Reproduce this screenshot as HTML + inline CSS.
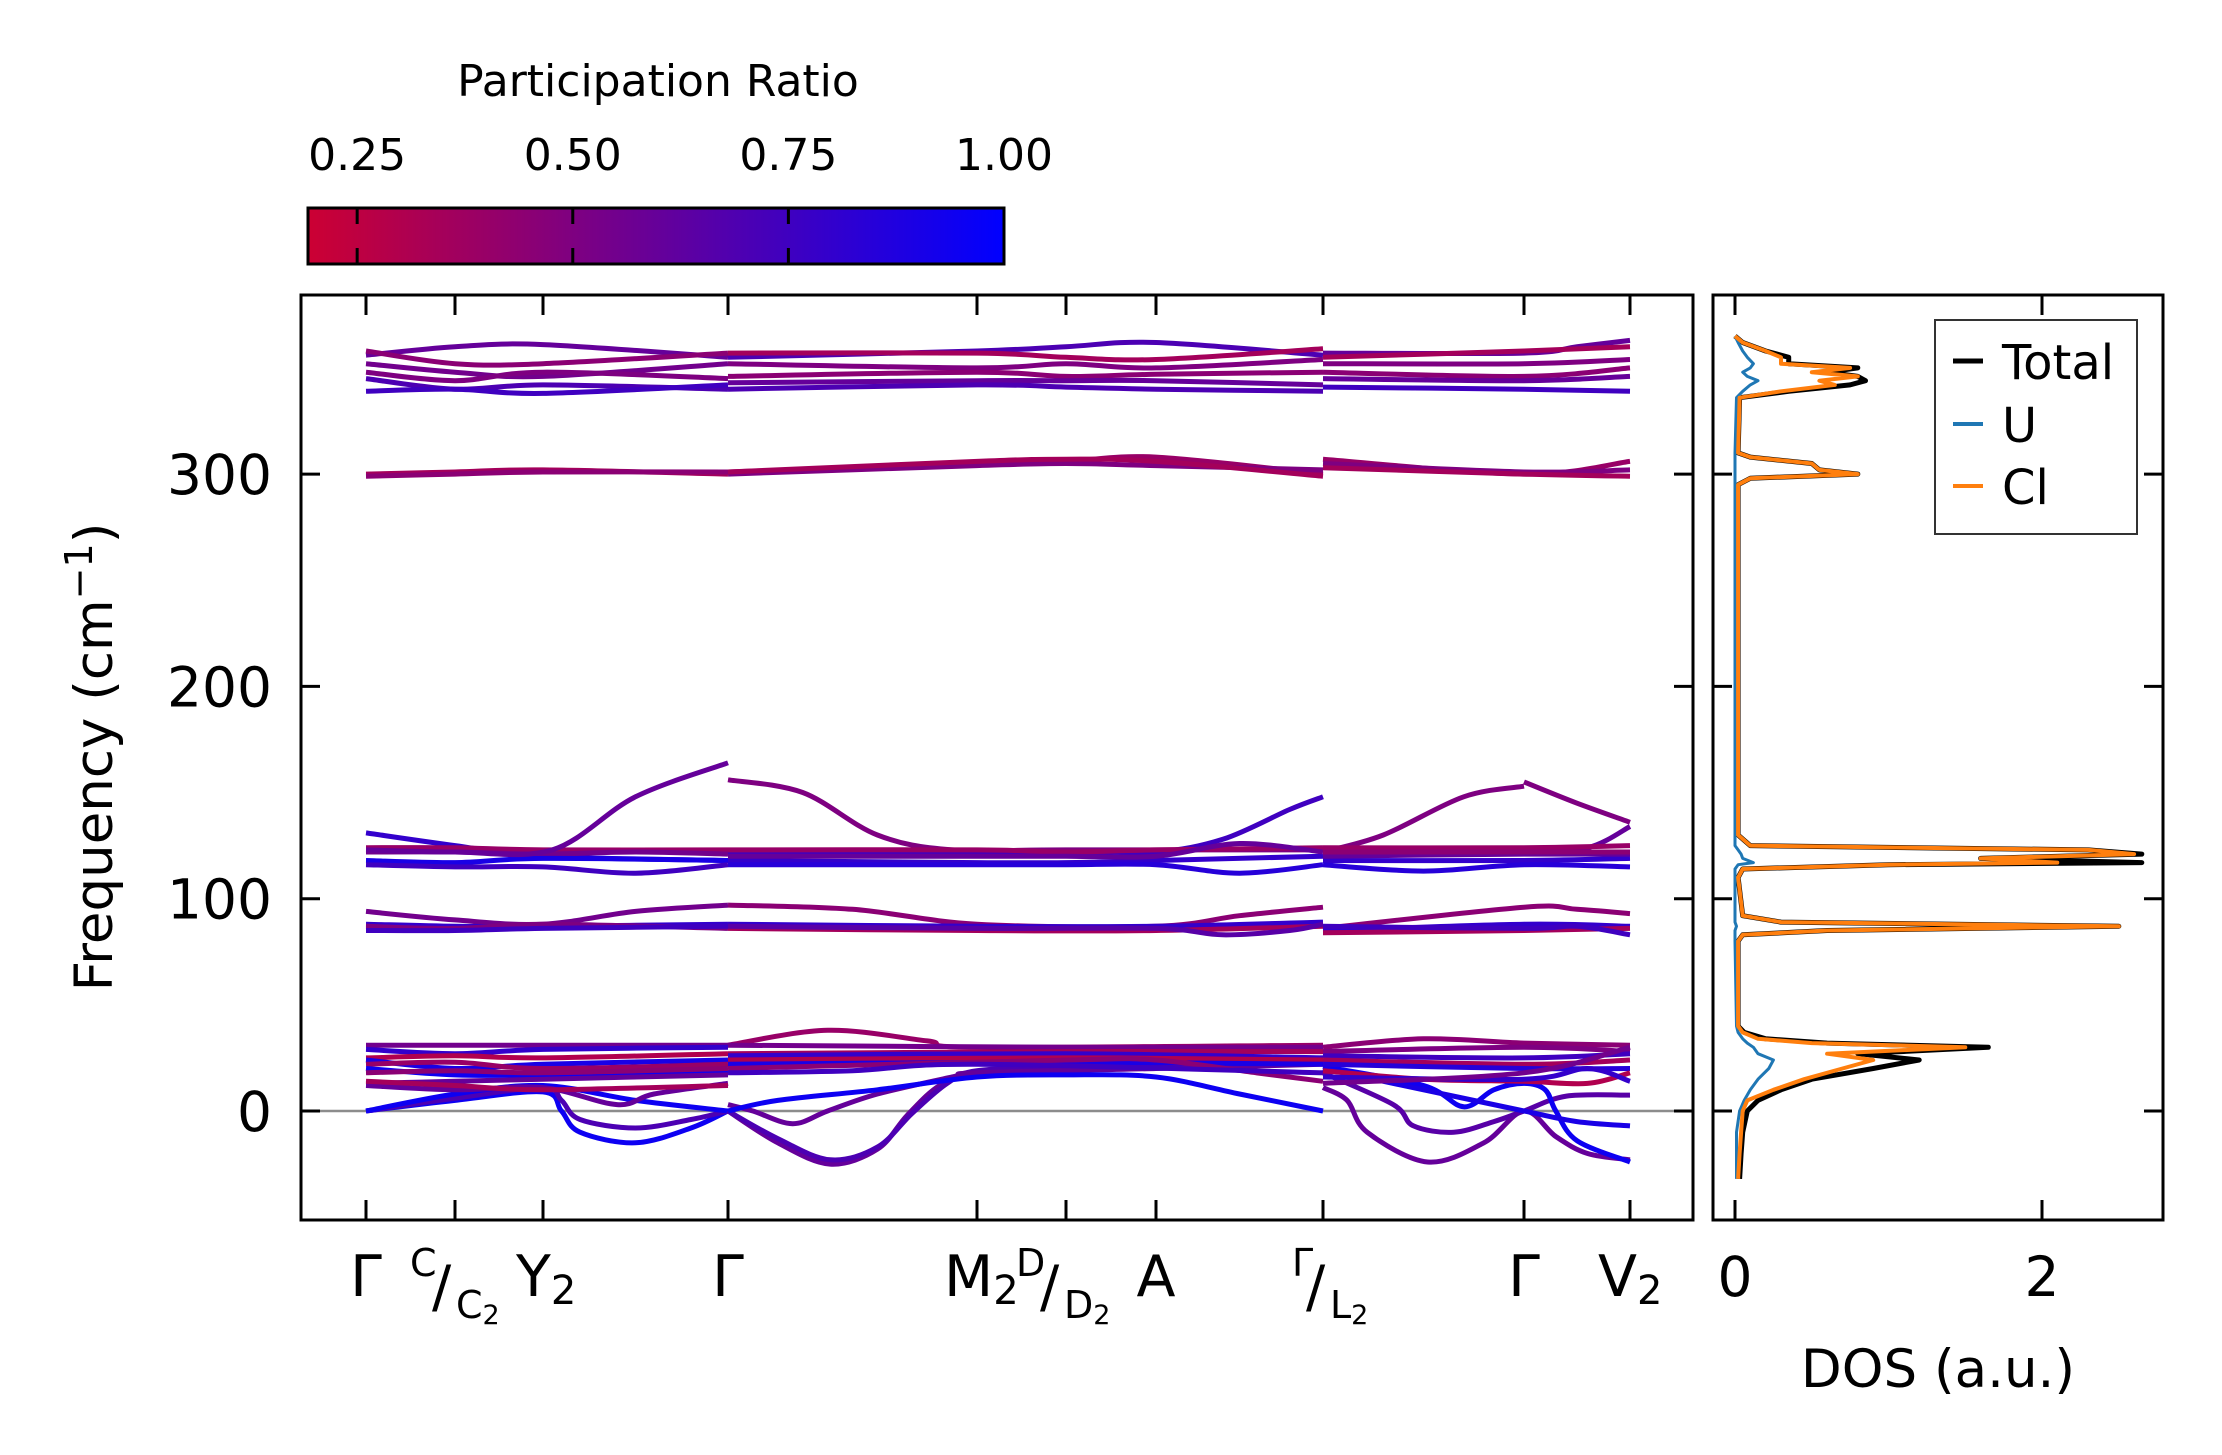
<!DOCTYPE html>
<html><head><meta charset="utf-8"><style>
html,body{margin:0;padding:0;background:#fff}
svg{display:block}
text{font-family:"DejaVu Sans","Liberation Sans",sans-serif;fill:#000}
</style></head><body>
<svg id="fig" width="2222" height="1455" viewBox="0 0 2222 1455" xmlns="http://www.w3.org/2000/svg">
<defs>
<linearGradient id="cbg" x1="0" x2="1" y1="0" y2="0">
<stop offset="0" stop-color="#cc0033"/><stop offset="1" stop-color="#0000ff"/>
</linearGradient>
<clipPath id="mainclip"><rect x="301" y="295" width="1392" height="925"/></clipPath>
<clipPath id="dosclip"><rect x="1713" y="295" width="450" height="925"/></clipPath>
</defs>
<g id="colorbar">
<text x="658" y="96" font-size="44" text-anchor="middle">Participation Ratio</text>
<rect x="308" y="208" width="696" height="56" fill="url(#cbg)" stroke="#000" stroke-width="3"/>
</g>
<g id="main"></g>
<g id="dos"></g>
</svg>
<script>
// ---- data ----
const cbTicks = [0.25, 0.50, 0.75, 1.00];
const cbTickLabels = ["0.25", "0.50", "0.75", "1.00"];
const yTicks = [0, 100, 200, 300];
const kTickT = [0,1,2,3,4,5,6,7,8,9];
const dosXTicks = [0, 2];
// bands: [participation ratio, t0,f0, t1,f1, ...]
const bandsA = [
[0.6,0,356,1,360,2,361,3,355],[0.45,0,358,1,352,2,352,3,357],[0.55,0,352,1,348,2,346,3,352],
[0.5,0,348,1,344,2,348,3,345],[0.7,0,345,1,340,2,342,3,340],[0.75,0,339,1,340,2,338,3,342],
[0.35,0,300,1,301,2,302,3,300],[0.45,0,299,1,300,2,301,3,301],
[0.8,0,131,1,125,2,120,3,118],[0.4,0,124,1,124,2,123,3,123],[0.55,0,122,1,122,2,121,2.5,122,3,121],
[0.9,0,118,1,117,2,119,3,118],[0.75,0,116,1,115,2,115,2.5,112,3,116],
[0.6,0,123,1,122,2.05,123,2.5,148,3,164],
[0.55,0,94,1,90,2,88,2.5,94,3,97],[0.8,0,88,1,87,2,87,3,88],[0.5,0,87,1,86,2,88,3,86],[0.75,0,85,1,85,2,86,3,87],
[0.95,0,0,1,5,2,9,2.1,0,2.2,-10,2.5,-15,2.8,-8,3,0],[0.7,0,0,1,6,2,11,2.1,5,2.2,-4,2.5,-8,2.8,-4,3,0],
[0.95,0,0,1,8,2,12,2.5,5,3,0],[0.6,0,12,1,10,2,11,2.4,3,2.6,8,3,13],
[0.55,0,31,1,31,2,31,3,31],[0.8,0,29,1,27,2,29,3,30],[0.3,0,25,1,26,2,25,3,27],[0.9,0,24,1,20,2,22,3,24],
[0.4,0,22,1,23,2,20,3,22],[0.95,0,20,1,17,2,17,3,18],[0.45,0,18,1,19,2,18,3,20],[0.6,0,13,1,14,2,15,3,17],
[0.35,0,14,1,12,2,10,3,12]
];
const bandsB = [
[0.7,3,355,4,358,5,360,6,362,7,356],[0.35,3,357,4,357,5,355,6,354,7,359],[0.5,3,352,4,350,5,352,6,350,7,354],
[0.45,3,346,4,348,5,346,6,347,7,348],[0.6,3,343,4,344,5,344,6,344,7,342],[0.7,3,340,4,342,5,341,6,340,7,339],
[0.4,3,301,4,305,5,306,6,308,7,300],[0.5,3,300,4,304,5,305,6,304,7,302],[0.35,3,301,4,306,5,307,6,306,7,299],
[0.5,3,156,3.3,150,3.6,130,3.9,123,5,123,7,123],[0.75,3,121,5,122,6,122,6.4,128,6.8,142,7,148],
[0.4,3,123,4,123,5,122,6,123,7,124],[0.8,3,118,4,117,5,117,6,118,7,120],[0.6,3,120,4,120,5,120,6,120,6.5,126,7,122],
[0.85,3,116,4,116,5,116,6,116,6.5,112,7,116],
[0.45,3,97,3.5,95,4,88,6,87,6.5,92,7,96],[0.8,3,88,4,87,6,87,7,89],[0.35,3,86,4,85,6,85,7,87],[0.65,3,87,4,86,6,86,6.4,83,6.8,85,7,88],
[0.6,3,0,3.2,-15,3.41,-25,3.6,-18,3.72,-2,3.85,12,4,18,5,20,6,21,7,24],
[0.7,3,0,3.2,-13,3.41,-23,3.6,-17,3.74,-1,3.88,13,4,19,5,21,6,22,7,25],
[0.6,3,3,3.1,0,3.26,-6,3.4,0,3.6,8,3.9,16,4,18,6,20,7,22],
[0.95,3,0,3.2,5,3.6,10,4,16,5,17,6,16,6.5,8,7,0],
[0.4,3,31,3.4,38,3.8,33,4,30,7,31],[0.55,3,31,5,30,7,30],[0.35,3,27,5,28,7,28],[0.8,3,26,5,27,7,25],
[0.3,3,24,5,25,7,24],[0.9,3,22,5,23,7,22],[0.45,3,20,5,24,6,24,6.6,18,7,14],[0.75,3,18,3.5,19,4,22,7,18]
];
const bandsC = [
[0.6,7,357,8,357,8.5,360,9,363],[0.35,7,355,8,358,9,360],[0.5,7,352,8,352,9,354],[0.45,7,348,8,346,9,350],
[0.6,7,345,8,344,9,346],[0.75,7,341,8,340,9,339],[0.4,7,307,8,300,9,306],[0.5,7,305,8,301,9,302],[0.35,7,303,8,300,9,299],
[0.5,7,122,7.3,130,7.7,148,8,153],[0.5,8,155,8.5,145,9,136],[0.6,8,122,8.6,124,9,134],
[0.4,7,124,8,124,9,125],[0.8,7,118,8,118,9,119],[0.6,7,120,8,121,9,121],[0.85,7,116,7.5,113,8,116,9,115],[0.45,7,122,8,122,9,122],
[0.45,7,86,8,96,8.5,95,9,93],[0.8,7,85,8,88,9,87],[0.35,7,84,8,85,9,86],[0.75,7,87,8,86,8.5,87,9,83],
[0.6,7,11,7.12,5,7.22,-10,7.52,-24,7.8,-15,8,0,8.3,-12,8.6,-20,9,-23],
[0.65,7,18,7.35,3,7.45,-7,7.65,-10,7.85,-5,8,0,8.4,7,9,7.5],
[0.95,7,21,7.5,12,7.7,2,7.85,10,8,13,8.2,10,8.3,0,8.5,-14,9,-24],
[0.9,7,20,7.5,10,8,0,8.5,-5,9,-7],
[0.45,7,30,7.5,34,8,32,9,31],[0.5,7,28,8,30,9,28],[0.75,7,26,8,25,9,27],[0.35,7,24,8,22,9,24],
[0.85,7,22,8,20,9,20],[0.3,7,19,7.5,15,8,14,8.6,13,9,18],[0.8,7,16,8,15,8.6,20,9,14],[0.55,7,13,8,18,9,30]
];
const dosFreq = [-32,-20,-10,0,5,10,15,20,24,27,30,32,34,37,40,80,83,85,87,89,92,110,114,116,117,119,121,123,125,130,295,298,300,302,305,308,310,336,339,342,344,346,348,350,352,355,358,362,365];
const dosCl =   [0.02,0.03,0.04,0.05,0.08,0.25,0.45,0.7,0.9,0.6,1.5,0.5,0.15,0.05,0.02,0.02,0.05,0.6,2.5,0.3,0.05,0.02,0.05,1.0,2.1,1.6,2.6,2.3,0.1,0.02,0.02,0.1,0.8,0.55,0.5,0.1,0.02,0.03,0.3,0.65,0.55,0.8,0.5,0.75,0.3,0.3,0.2,0.05,0.0];
const dosTotal =[0.03,0.04,0.05,0.08,0.15,0.3,0.5,0.9,1.2,0.8,1.65,0.6,0.2,0.06,0.02,0.02,0.05,0.6,2.5,0.3,0.05,0.02,0.05,1.0,2.65,1.6,2.65,2.3,0.1,0.02,0.02,0.1,0.8,0.55,0.5,0.1,0.02,0.03,0.35,0.75,0.85,0.8,0.6,0.8,0.35,0.35,0.2,0.05,0.0];
const dosU =    [0.01,0.01,0.01,0.03,0.06,0.1,0.15,0.22,0.25,0.15,0.12,0.08,0.05,0.02,0.01,0.0,0.0,0.0,0.01,0.0,0.0,0.0,0.0,0.02,0.12,0.05,0.04,0.02,0.0,0.0,0.0,0.0,0.0,0.0,0.0,0.0,0.0,0.01,0.05,0.1,0.15,0.08,0.05,0.1,0.12,0.08,0.05,0.02,0.0];
// ---- axes ----
const NS="http://www.w3.org/2000/svg";
const tickPx=[366,455,543,728,977,1066,1156,1323,1524,1630];
function kx(t){for(let i=0;i<tickPx.length-1;i++){if(t<=kTickT[i+1]||i==tickPx.length-2){return tickPx[i]+(t-kTickT[i])/(kTickT[i+1]-kTickT[i])*(tickPx[i+1]-tickPx[i]);}}}
function fy(f){return 1111-f*2.123;}
function dx(v){return 1735+v*153.5;}
function cbx(v){return 308+(v-0.193)/(1-0.193)*696;}
function prColor(p){let a=Math.max(0,Math.min(1,(p-0.193)/(1-0.193)));return `rgb(${Math.round(204*(1-a))},0,${Math.round(51+204*a)})`;}
function el(tag,attrs,parent){const e=document.createElementNS(NS,tag);for(const k in attrs)e.setAttribute(k,attrs[k]);parent.appendChild(e);return e;}
const main=document.getElementById('main'), dos=document.getElementById('dos'), cb=document.getElementById('colorbar');
cbTicks.forEach((v,i)=>{
 const x=cbx(v);
 const lb=el('text',{x:x,y:170,'font-size':44,'text-anchor':'middle'},cb);lb.textContent=cbTickLabels[i];
 
 
 if(v<1){el('line',{x1:x,x2:x,y1:209,y2:224,stroke:'#000','stroke-width':3},cb);el('line',{x1:x,x2:x,y1:248,y2:263,stroke:'#000','stroke-width':3},cb);}
});
const bg=el('g',{'clip-path':'url(#mainclip)'},main);
el('line',{x1:301,x2:1693,y1:fy(0),y2:fy(0),stroke:'#8c8c8c','stroke-width':2.5},bg);
function smoothPath(pts){let d=`M${pts[0][0].toFixed(1)},${pts[0][1].toFixed(1)}`;
 for(let i=0;i<pts.length-1;i++){const p0=pts[Math.max(0,i-1)],p1=pts[i],p2=pts[i+1],p3=pts[Math.min(pts.length-1,i+2)];
  const c1=[p1[0]+(p2[0]-p0[0])/6,p1[1]+(p2[1]-p0[1])/6],c2=[p2[0]-(p3[0]-p1[0])/6,p2[1]-(p3[1]-p1[1])/6];
  d+=` C${c1[0].toFixed(1)},${c1[1].toFixed(1)} ${c2[0].toFixed(1)},${c2[1].toFixed(1)} ${p2[0].toFixed(1)},${p2[1].toFixed(1)}`;}
 return d;}
[bandsA,bandsB,bandsC].forEach(set=>set.forEach(b=>{
 const pts=[];for(let i=1;i<b.length;i+=2)pts.push([kx(b[i]),fy(b[i+1])]);
 const p=el('path',{d:smoothPath(pts),fill:'none',stroke:prColor(b[0]),'stroke-width':5,'stroke-linecap':'butt'},bg);
 
 
}));
const mf=el('rect',{x:301,y:295,width:1392,height:925,fill:'none',stroke:'#000','stroke-width':3},main);


yTicks.forEach(v=>{const y=fy(v);
 el('line',{x1:301,x2:320,y1:y,y2:y,stroke:'#000','stroke-width':3},main);
 el('line',{x1:1674,x2:1693,y1:y,y2:y,stroke:'#000','stroke-width':3},main);
 el('line',{x1:1713,x2:1732,y1:y,y2:y,stroke:'#000','stroke-width':3},dos);
 el('line',{x1:2144,x2:2163,y1:y,y2:y,stroke:'#000','stroke-width':3},dos);
 const t=el('text',{x:272,y:y+20,'font-size':55,'text-anchor':'end'},main);t.textContent=String(v);
 
 
});
tickPx.forEach(x=>{el('line',{x1:x,x2:x,y1:296,y2:315,stroke:'#000','stroke-width':3},main);el('line',{x1:x,x2:x,y1:1200,y2:1219,stroke:'#000','stroke-width':3},main);});
const yl=el('text',{transform:'translate(112,757) rotate(-90)','font-size':53,'text-anchor':'middle'},main);
yl.innerHTML='Frequency (cm<tspan dy="-20" font-size="38">−1</tspan><tspan dy="20">)</tspan>';


const xl=el('g',{},main);


xl.innerHTML=`
<text x="366" y="1296" font-size="57" text-anchor="middle">Γ</text>
<text x="410" y="1276" font-size="38">C</text><text x="432" y="1306" font-size="57">/</text><text x="456" y="1318" font-size="38">C<tspan font-size="27" dy="6">2</tspan></text>
<text x="516" y="1296" font-size="57">Y<tspan font-size="40" dy="8">2</tspan></text>
<text x="728" y="1296" font-size="57" text-anchor="middle">Γ</text>
<text x="944" y="1296" font-size="57">M<tspan font-size="40" dy="8">2</tspan></text>
<text x="1016" y="1276" font-size="38">D</text><text x="1040" y="1306" font-size="57">/</text><text x="1064" y="1318" font-size="38">D<tspan font-size="27" dy="6">2</tspan></text>
<text x="1156" y="1296" font-size="57" text-anchor="middle">A</text>
<text x="1292" y="1276" font-size="38">Γ</text><text x="1306" y="1306" font-size="57">/</text><text x="1330" y="1318" font-size="38">L<tspan font-size="27" dy="6">2</tspan></text>
<text x="1524" y="1296" font-size="57" text-anchor="middle">Γ</text>
<text x="1598" y="1296" font-size="57">V<tspan font-size="40" dy="8">2</tspan></text>`;
const dg=el('g',{'clip-path':'url(#dosclip)'},dos);
function dosPath(vals){return dosFreq.map((f,i)=>(i?'L':'M')+dx(vals[i]).toFixed(1)+','+fy(f).toFixed(1)).join(' ');}
[[dosTotal,'#000','dos-total-line',5],[dosU,'#1f77b4','dos-u-line',3],[dosCl,'#ff7f0e','dos-cl-line',4]].forEach(s=>{
 const p=el('path',{d:dosPath(s[0]),fill:'none',stroke:s[1],'stroke-width':s[3],'stroke-linejoin':'round'},dg);
 
 
});
const df=el('rect',{x:1713,y:295,width:450,height:925,fill:'none',stroke:'#000','stroke-width':3},dos);


dosXTicks.forEach(v=>{const x=dx(v);
 el('line',{x1:x,x2:x,y1:296,y2:315,stroke:'#000','stroke-width':3},dos);
 el('line',{x1:x,x2:x,y1:1200,y2:1219,stroke:'#000','stroke-width':3},dos);
 const t=el('text',{x:x,y:1296,'font-size':55,'text-anchor':'middle'},dos);t.textContent=String(v);
 
 
});
const dl=el('text',{x:1938,y:1387,'font-size':53,'text-anchor':'middle'},dos);dl.textContent='DOS (a.u.)';


const lg=el('g',{},dos);


el('rect',{x:1935,y:320,width:202,height:214,fill:'#fff',stroke:'#333','stroke-width':2},lg);
[['Total','#000',379],['U','#1f77b4',442],['Cl','#ff7f0e',504]].forEach(e=>{
 const g=el('g',{},lg);
 
 
 el('line',{x1:1953,x2:1983,y1:e[2]-18,y2:e[2]-18,stroke:e[1],'stroke-width':e[0]=='Total'?5:4},g);
 const t=el('text',{x:2002,y:e[2],'font-size':48},g);t.textContent=e[0];
});
</script>
</body></html>
